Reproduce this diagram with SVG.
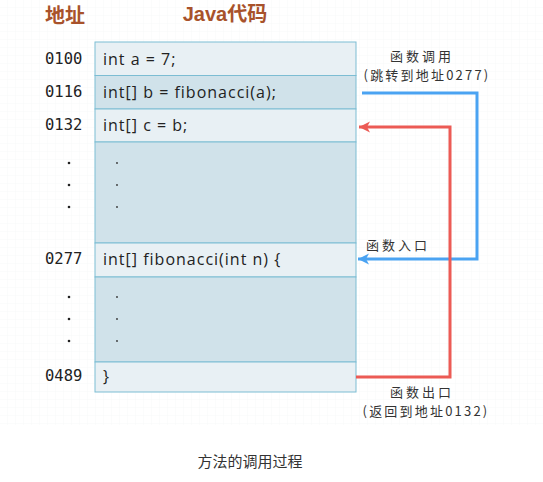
<svg xmlns="http://www.w3.org/2000/svg" width="543" height="482" viewBox="0 0 543 482">
<defs>
<pattern id="grid" width="8" height="8" patternUnits="userSpaceOnUse">
<path d="M8 0V8M0 8H8" fill="none" stroke="#f4f6f7" stroke-width="0.6"/>
</pattern>
<marker id="ab" markerWidth="12" markerHeight="12" refX="11" refY="6" orient="auto" markerUnits="userSpaceOnUse">
<path d="M0 0.5L11 6L0 11.5L3 6Z" fill="#4aa3f2"/>
</marker>
<marker id="ar" markerWidth="12" markerHeight="12" refX="11" refY="6" orient="auto" markerUnits="userSpaceOnUse">
<path d="M0 0.5L11 6L0 11.5L3 6Z" fill="#ec5b55"/>
</marker>
</defs>
<style>
.hd{font-family:"Liberation Sans","Noto Sans CJK SC",sans-serif;font-size:20px;font-weight:bold;fill:#a8522b}
.ad{font-family:"DejaVu Sans Mono",monospace;font-size:15.5px;fill:#222}
.cd{font-family:"Open Sans","Noto Sans",sans-serif;font-size:16px;letter-spacing:1px;fill:#222}
.lb{font-family:"Noto Sans CJK SC",sans-serif;font-size:13px;fill:#333;letter-spacing:3px}
.lb2{font-family:"Noto Sans CJK SC",sans-serif;font-size:13px;fill:#333;letter-spacing:2.2px}
.light{fill:#e8f0f4;stroke:#7cbdd3;stroke-width:1}
.dark{fill:#d0e2ea;stroke:#7cbdd3;stroke-width:1}
.cap{font-family:"Noto Sans CJK SC",sans-serif;font-size:15px;fill:#333}
</style>
<rect width="543" height="482" fill="#fff"/>
<rect x="0" y="0" width="543" height="425" fill="url(#grid)"/>
<g id="headers">
<text class="hd" x="45" y="23">地址</text>
<text class="hd" x="225" y="21" text-anchor="middle">Java代码</text>
</g>
<g id="addresses">
<text class="ad" x="45" y="64">0100</text>
<text class="ad" x="45" y="97">0116</text>
<text class="ad" x="45" y="130">0132</text>
<text class="ad" x="45" y="264">0277</text>
<text class="ad" x="45" y="381">0489</text>
<g fill="#222">
<circle cx="69" cy="163" r="1.3"/><circle cx="69" cy="185" r="1.3"/><circle cx="69" cy="207" r="1.3"/>
<circle cx="69" cy="297" r="1.3"/><circle cx="69" cy="319" r="1.3"/><circle cx="69" cy="341" r="1.3"/>
</g>
</g>
<g id="row1"><rect class="light" x="95" y="42" width="261" height="33.5"/><text class="cd" x="103" y="64.5">int a = 7;</text></g>
<g id="row2"><rect class="dark" x="95" y="75.5" width="261" height="33.5"/><text class="cd" x="103" y="97.5">int[] b = fibonacci(a);</text></g>
<g id="row3"><rect class="light" x="95" y="109" width="261" height="33"/><text class="cd" x="103" y="130.5">int[] c = b;</text></g>
<g id="row4"><rect class="dark" x="95" y="142" width="261" height="101"/>
<g fill="#333"><circle cx="117" cy="163" r="0.9"/><circle cx="117" cy="185" r="0.9"/><circle cx="117" cy="207" r="0.9"/></g></g>
<g id="row5"><rect class="light" x="95" y="243" width="261" height="34"/><text class="cd" x="103" y="264.5">int[] fibonacci(int n) {</text></g>
<g id="row6"><rect class="dark" x="95" y="277" width="261" height="85"/>
<g fill="#333"><circle cx="117" cy="297" r="0.9"/><circle cx="117" cy="319" r="0.9"/><circle cx="117" cy="341" r="0.9"/></g></g>
<g id="row7"><rect class="light" x="95" y="362" width="261" height="30"/><text class="cd" x="103" y="381.5">}</text></g>
<g id="connectors" fill="none" stroke-width="3">
<path d="M362 93H477V259H358" stroke="#4aa3f2" marker-end="url(#ab)"/>
<path d="M356 377H450V127H359" stroke="#ec5b55" marker-end="url(#ar)"/>
</g>
<g id="labels">
<text class="lb" x="422" y="61" text-anchor="middle">函数调用</text>
<text class="lb2" x="427" y="80" text-anchor="middle">(跳转到地址0277)</text>
<text class="lb" x="398" y="250" text-anchor="middle">函数入口</text>
<text class="lb" x="422" y="397" text-anchor="middle">函数出口</text>
<text class="lb2" x="426" y="416" text-anchor="middle">(返回到地址0132)</text>
</g>
<text class="cap" x="250" y="467" text-anchor="middle">方法的调用过程</text>
</svg>
